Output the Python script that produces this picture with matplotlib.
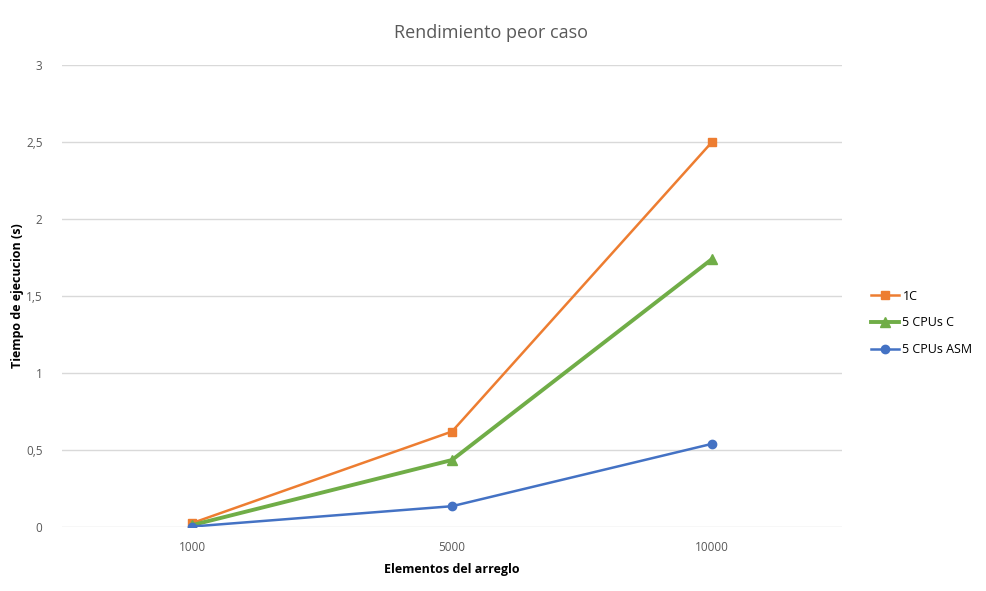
import matplotlib
matplotlib.use("Agg")
import matplotlib.pyplot as plt
from matplotlib.ticker import FuncFormatter

categories = ["1000", "5000", "10000"]
serie_1c = [0.025, 0.62, 2.50]
serie_5c = [0.012, 0.435, 1.74]
serie_asm = [0.003, 0.135, 0.54]
series_names = ["1C", "5 CPUs C", "5 CPUs ASM"]
y_ticks = [0, 0.5, 1, 1.5, 2, 2.5, 3]

plt.rcParams['font.family'] = ['Open Sans', 'DejaVu Sans']

fig = plt.figure(figsize=(9.86, 5.91), dpi=100)
ax = fig.add_axes([62/986, 1-527/591, (842-62)/986, (527-65)/591])

x = list(range(len(categories)))
ax.plot(x, serie_1c, color='#ED7D31', lw=1.8, marker='s', ms=6, label=series_names[0], zorder=3)
ax.plot(x, serie_5c, color='#70AD47', lw=2.8, marker='^', ms=7.5, label=series_names[1], zorder=3)
ax.plot(x, serie_asm, color='#4472C4', lw=1.8, marker='o', ms=6, label=series_names[2], zorder=3)

ax.set_xlim(-0.5, 2.5)
ax.set_ylim(0, 3)
ax.set_xticks(x)
ax.set_xticklabels(categories)
ax.set_yticks(y_ticks)
ax.yaxis.set_major_formatter(FuncFormatter(lambda v, p: ('%g' % v).replace('.', ',')))
ax.grid(axis='y', color='#D9D9D9', lw=1)
ax.set_axisbelow(True)
for s in ax.spines.values():
    s.set_visible(False)
ax.tick_params(axis='both', length=0, labelsize=8.5, colors='#595959', pad=10)
ax.tick_params(axis='y', pad=14)

fig.text(452/986, 1-569/591, 'Elementos del arreglo', ha='center', va='center',
         fontsize=9, fontweight='bold', color='#000000')
fig.text(18/986, 1-296/591, 'Tiempo de ejecucion (s)', ha='center', va='center', rotation=90,
         fontsize=9, fontweight='bold', color='#000000')
fig.text(491/986, 1-33/591, 'Rendimiento peor caso', ha='center', va='center', fontsize=13, color='#595959')

leg = ax.legend(loc='center left', bbox_to_anchor=(865/986, 1-323/591), bbox_transform=fig.transFigure,
                frameon=False, fontsize=9, handlelength=2.2, labelspacing=1.1, handletextpad=0.3, borderpad=0)

fig.savefig('out.png', dpi=100, facecolor='white')
